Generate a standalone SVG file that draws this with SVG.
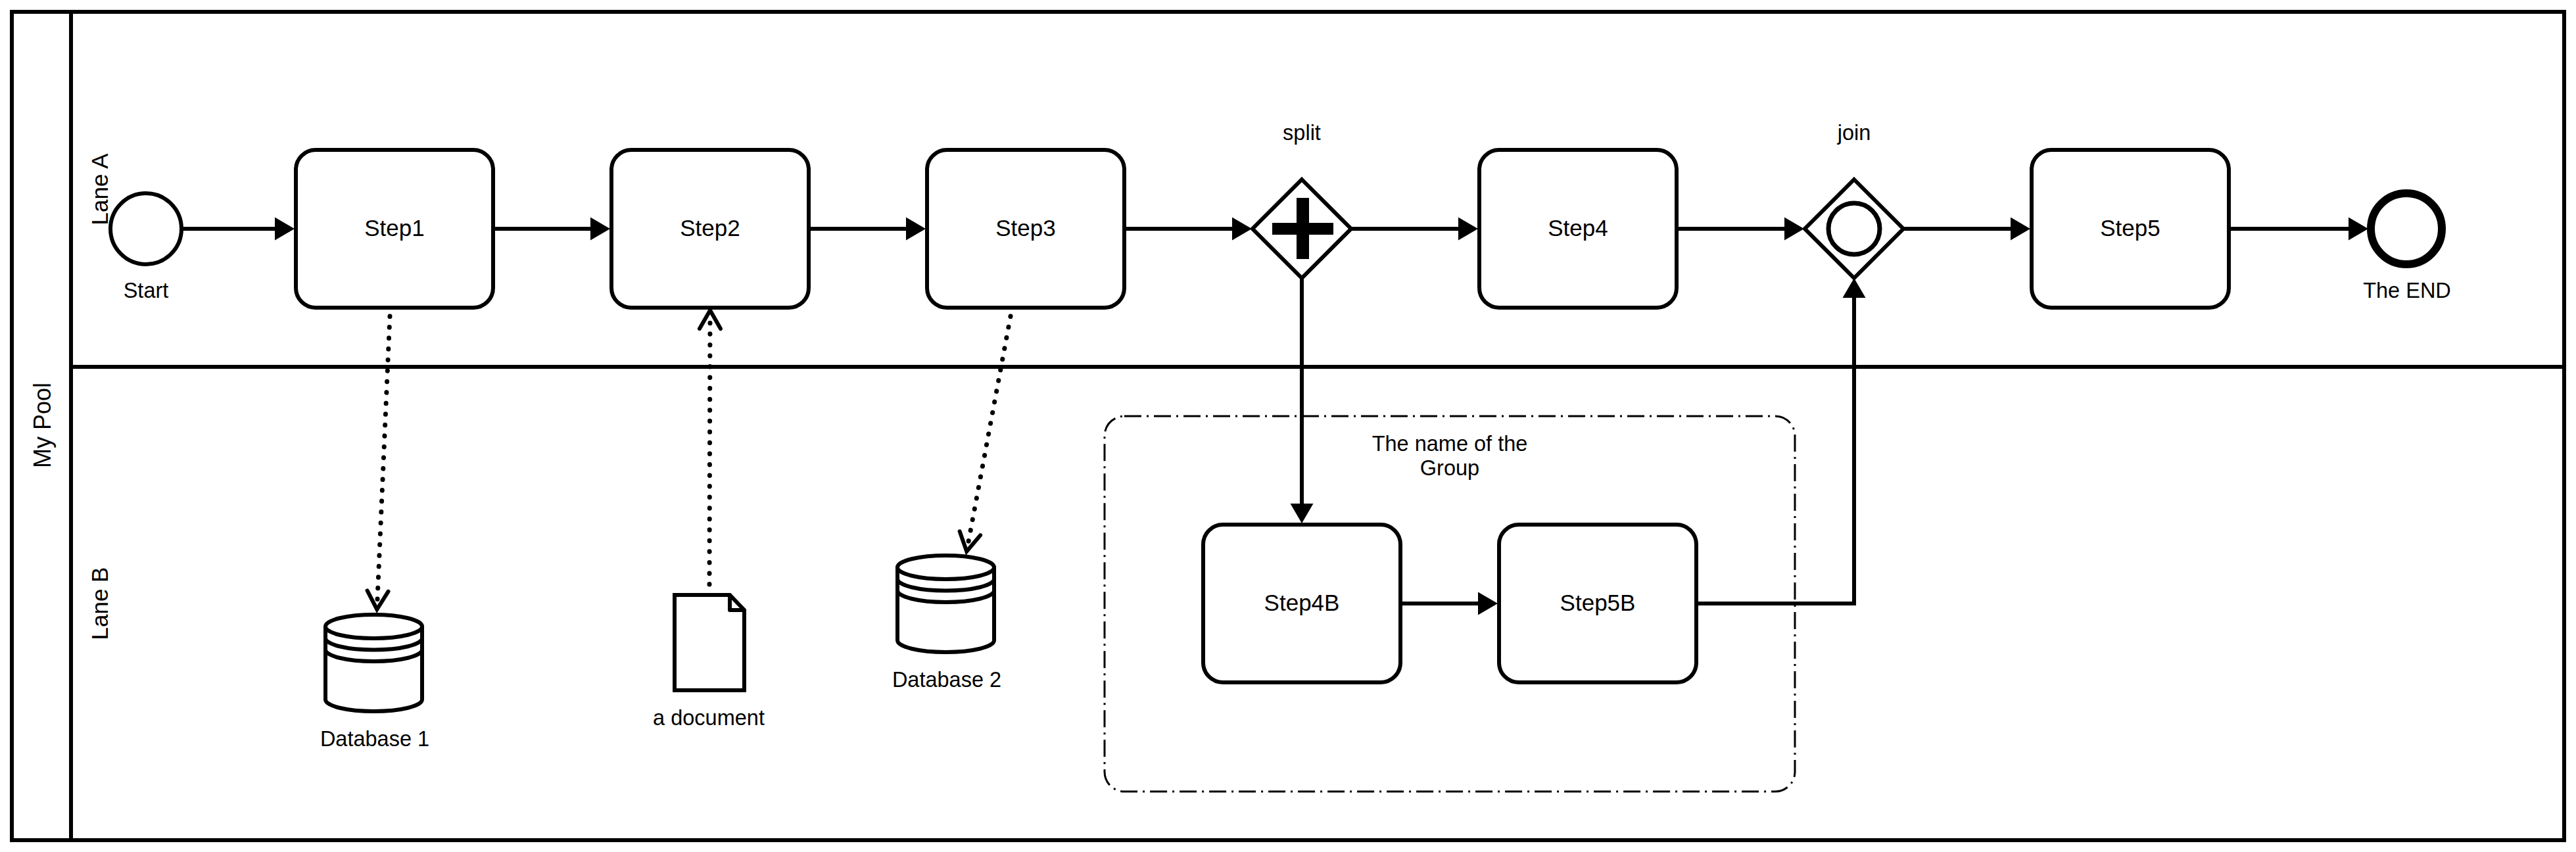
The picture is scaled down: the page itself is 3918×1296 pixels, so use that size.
<svg xmlns="http://www.w3.org/2000/svg" width="3918" height="1296" viewBox="0 0 3918 1296">
<style>
.s{fill:#fff;stroke:#000;stroke-width:6}
.n{fill:none;stroke:#000;stroke-width:6;stroke-linejoin:round}
.f{fill:none;stroke:#000;stroke-width:6;marker-end:url(#tri)}
.d{fill:none;stroke:#000;stroke-width:7;stroke-linecap:round;stroke-dasharray:0.5 16.05;marker-end:url(#open)}
.g{fill:none;stroke:#000;stroke-width:3;stroke-dasharray:26 8 3 8}
text{font-family:"Liberation Sans",Arial,sans-serif;font-size:32.5px;fill:#000;text-anchor:middle}
.l{font-size:35px}
.p{font-size:36px}
</style>
<defs>
<marker id="tri" markerUnits="userSpaceOnUse" markerWidth="60" markerHeight="60" orient="auto" overflow="visible" refX="0" refY="0"><path d="M-12,-17.5 L18,0 L-12,17.5 Z" fill="#000"/></marker>
<marker id="open" markerUnits="userSpaceOnUse" markerWidth="60" markerHeight="60" orient="auto" overflow="visible" refX="0" refY="0"><path d="M-13,-16 L15,0 L-13,16" fill="none" stroke="#000" stroke-width="6" stroke-linecap="round"/></marker>
</defs>
<rect width="3918" height="1296" fill="#fff"/>
<g id="pool"><rect x="18" y="18" width="3882" height="1260" fill="none" stroke="#000" stroke-width="6"/><line x1="108" y1="18" x2="108" y2="1278" class="n"/><text class="p" transform="translate(77,647) rotate(-90)">My Pool</text></g>
<g id="laneA"><line x1="108" y1="558" x2="3900" y2="558" class="n"/><text class="l" transform="translate(164,288) rotate(-90)">Lane A</text></g>
<g id="laneB"><text class="l" transform="translate(164,918) rotate(-90)">Lane B</text></g>
<g id="group"><rect x="1680" y="633" width="1050" height="571" rx="30" class="g"/><text x="2205" y="686">The name of the</text><text x="2205" y="723">Group</text></g>
<g id="connectors">
<path class="f" d="M277,348H430"/>
<path class="f" d="M750,348H910"/>
<path class="f" d="M1230,348H1390"/>
<path class="f" d="M1710,348H1886"/>
<path class="f" d="M2055,348H2230"/>
<path class="f" d="M2550,348H2726"/>
<path class="f" d="M2895,348H3070"/>
<path class="f" d="M3390,348H3584"/>
<path class="f" d="M1980,423V778"/>
<path class="f" d="M2130,918H2260"/>
<path class="f" d="M2580,918H2820V441"/>
<path class="d" d="M593,481L574,912"/>
<path class="d" d="M1079,889L1080,487"/>
<path class="d" d="M1537,481L1473,824"/>
</g>
<g id="start"><circle cx="222" cy="348" r="54" class="s"/><text x="222" y="452.5">Start</text></g>
<g id="step1"><rect x="450" y="228" width="300" height="240" rx="30" class="s"/><text class="l" x="600" y="359">Step1</text></g>
<g id="step2"><rect x="930" y="228" width="300" height="240" rx="30" class="s"/><text class="l" x="1080" y="359">Step2</text></g>
<g id="step3"><rect x="1410" y="228" width="300" height="240" rx="30" class="s"/><text class="l" x="1560" y="359">Step3</text></g>
<g id="split"><path d="M1980,273L2055,348L1980,423L1905,348Z" class="s"/><path d="M1972,301h19v38h37v18h-37v37h-19v-37h-37v-18h37z" fill="#000"/><text x="1980" y="213">split</text></g>
<g id="step4"><rect x="2250" y="228" width="300" height="240" rx="30" class="s"/><text class="l" x="2400" y="359">Step4</text></g>
<g id="join"><path d="M2820,273L2895,348L2820,423L2745,348Z" class="s"/><circle cx="2820" cy="348" r="39" fill="none" stroke="#000" stroke-width="7"/><text x="2820" y="213">join</text></g>
<g id="step5"><rect x="3090" y="228" width="300" height="240" rx="30" class="s"/><text class="l" x="3240" y="359">Step5</text></g>
<g id="end"><circle cx="3660" cy="348" r="54" fill="#fff" stroke="#000" stroke-width="12"/><text x="3661" y="452.5">The END</text></g>
<g id="step4b"><rect x="1830" y="798" width="300" height="240" rx="30" class="s"/><text class="l" x="1980" y="929">Step4B</text></g>
<g id="step5b"><rect x="2280" y="798" width="300" height="240" rx="30" class="s"/><text class="l" x="2430" y="929">Step5B</text></g>
<g id="db1"><path d="M495,953A73.5,18 0 0 1 642,953V1064A73.5,18 0 0 1 495,1064Z" class="s"/><path d="M495,953A73.5,18 0 0 0 642,953M495,970.5A73.5,18 0 0 0 642,970.5M495,988A73.5,18 0 0 0 642,988" class="n"/><text x="570" y="1135">Database 1</text></g>
<g id="doc"><path d="M1026,905H1110L1132,928V1050H1026Z" class="s"/><path d="M1110,905V928H1132" class="n"/><text x="1078" y="1103">a document</text></g>
<g id="db2"><path d="M1365,863A73.5,18 0 0 1 1512,863V974A73.5,18 0 0 1 1365,974Z" class="s"/><path d="M1365,863A73.5,18 0 0 0 1512,863M1365,880.5A73.5,18 0 0 0 1512,880.5M1365,898A73.5,18 0 0 0 1512,898" class="n"/><text x="1440" y="1045">Database 2</text></g>
</svg>
